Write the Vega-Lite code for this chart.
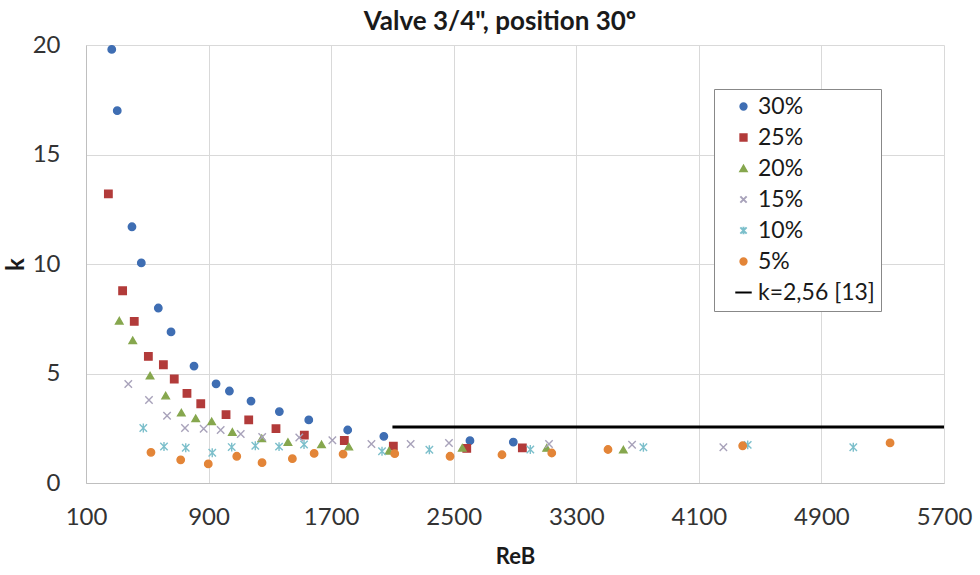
{
  "$schema": "https://vega.github.io/schema/vega-lite/v6.json",
  "width": 858,
  "height": 438,
  "autosize": {"type": "none"},
  "padding": {"left": 86, "top": 45, "right": 36, "bottom": 92},
  "background": "white",
  "title": {"text": "Valve 3/4\", position 30º", "font": "Lato", "fontSize": 26, "fontWeight": "bold", "color": "#1a1a1a", "offset": -2, "dx": -15},
  "config": {"view": {"stroke": null}, "font": "Lato"},
  "datasets": {
    "pts": [
      {"series": "30%", "re": 268, "k": 19.8},
      {"series": "30%", "re": 304, "k": 17.0},
      {"series": "30%", "re": 400, "k": 11.7},
      {"series": "30%", "re": 461, "k": 10.05},
      {"series": "30%", "re": 572, "k": 7.99},
      {"series": "30%", "re": 655, "k": 6.9},
      {"series": "30%", "re": 805, "k": 5.34},
      {"series": "30%", "re": 949, "k": 4.53},
      {"series": "30%", "re": 1036, "k": 4.2},
      {"series": "30%", "re": 1177, "k": 3.74},
      {"series": "30%", "re": 1362, "k": 3.26},
      {"series": "30%", "re": 1554, "k": 2.88},
      {"series": "30%", "re": 1808, "k": 2.42},
      {"series": "30%", "re": 2044, "k": 2.13},
      {"series": "30%", "re": 2606, "k": 1.93},
      {"series": "30%", "re": 2889, "k": 1.87},
      {"series": "25%", "re": 246, "k": 13.2},
      {"series": "25%", "re": 339, "k": 8.78},
      {"series": "25%", "re": 415, "k": 7.38},
      {"series": "25%", "re": 507, "k": 5.78},
      {"series": "25%", "re": 605, "k": 5.4},
      {"series": "25%", "re": 676, "k": 4.75},
      {"series": "25%", "re": 759, "k": 4.09},
      {"series": "25%", "re": 849, "k": 3.62},
      {"series": "25%", "re": 1014, "k": 3.12},
      {"series": "25%", "re": 1162, "k": 2.88},
      {"series": "25%", "re": 1340, "k": 2.48},
      {"series": "25%", "re": 1525, "k": 2.19},
      {"series": "25%", "re": 1786, "k": 1.94},
      {"series": "25%", "re": 2106, "k": 1.68},
      {"series": "25%", "re": 2585, "k": 1.58},
      {"series": "25%", "re": 2948, "k": 1.6},
      {"series": "20%", "re": 317, "k": 7.41},
      {"series": "20%", "re": 405, "k": 6.51},
      {"series": "20%", "re": 518, "k": 4.9},
      {"series": "20%", "re": 620, "k": 3.99},
      {"series": "20%", "re": 722, "k": 3.21},
      {"series": "20%", "re": 816, "k": 2.95},
      {"series": "20%", "re": 920, "k": 2.81},
      {"series": "20%", "re": 1055, "k": 2.33},
      {"series": "20%", "re": 1247, "k": 2.04},
      {"series": "20%", "re": 1418, "k": 1.87},
      {"series": "20%", "re": 1637, "k": 1.76},
      {"series": "20%", "re": 1815, "k": 1.66},
      {"series": "20%", "re": 2078, "k": 1.47},
      {"series": "20%", "re": 2556, "k": 1.61},
      {"series": "20%", "re": 3107, "k": 1.6},
      {"series": "20%", "re": 3607, "k": 1.52},
      {"series": "15%", "re": 376, "k": 4.52},
      {"series": "15%", "re": 511, "k": 3.79},
      {"series": "15%", "re": 629, "k": 3.07},
      {"series": "15%", "re": 746, "k": 2.51},
      {"series": "15%", "re": 868, "k": 2.48},
      {"series": "15%", "re": 979, "k": 2.42},
      {"series": "15%", "re": 1110, "k": 2.24},
      {"series": "15%", "re": 1250, "k": 2.1},
      {"series": "15%", "re": 1492, "k": 2.08},
      {"series": "15%", "re": 1708, "k": 1.95},
      {"series": "15%", "re": 1963, "k": 1.78},
      {"series": "15%", "re": 2219, "k": 1.78},
      {"series": "15%", "re": 2469, "k": 1.83},
      {"series": "15%", "re": 3122, "k": 1.78},
      {"series": "15%", "re": 3664, "k": 1.75},
      {"series": "15%", "re": 4260, "k": 1.63},
      {"series": "10%", "re": 474, "k": 2.51},
      {"series": "10%", "re": 609, "k": 1.67},
      {"series": "10%", "re": 751, "k": 1.61},
      {"series": "10%", "re": 924, "k": 1.38},
      {"series": "10%", "re": 1051, "k": 1.64},
      {"series": "10%", "re": 1205, "k": 1.7},
      {"series": "10%", "re": 1360, "k": 1.66},
      {"series": "10%", "re": 1523, "k": 1.76},
      {"series": "10%", "re": 2032, "k": 1.45},
      {"series": "10%", "re": 2341, "k": 1.52},
      {"series": "10%", "re": 3000, "k": 1.53},
      {"series": "10%", "re": 3738, "k": 1.63},
      {"series": "10%", "re": 4419, "k": 1.74},
      {"series": "10%", "re": 5108, "k": 1.63},
      {"series": "5%", "re": 524, "k": 1.4},
      {"series": "5%", "re": 718, "k": 1.06},
      {"series": "5%", "re": 898, "k": 0.87},
      {"series": "5%", "re": 1084, "k": 1.22},
      {"series": "5%", "re": 1249, "k": 0.93},
      {"series": "5%", "re": 1447, "k": 1.11},
      {"series": "5%", "re": 1589, "k": 1.35},
      {"series": "5%", "re": 1778, "k": 1.32},
      {"series": "5%", "re": 2115, "k": 1.34},
      {"series": "5%", "re": 2476, "k": 1.22},
      {"series": "5%", "re": 2815, "k": 1.29},
      {"series": "5%", "re": 3140, "k": 1.37},
      {"series": "5%", "re": 3507, "k": 1.53},
      {"series": "5%", "re": 4386, "k": 1.7},
      {"series": "5%", "re": 5348, "k": 1.83}
    ],
    "ref": [
      {"series": "k=2,56 [13]", "re": 2100, "k": 2.56},
      {"series": "k=2,56 [13]", "re": 5700, "k": 2.56}
    ]
  },
  "encoding": {
    "x": {"field": "re", "type": "quantitative",
      "scale": {"domain": [100, 5700], "nice": false, "zero": false},
      "axis": {"values": [100, 900, 1700, 2500, 3300, 4100, 4900, 5700], "format": "d", "grid": true, "gridColor": "#D9D9D9", "domainColor": "#BFBFBF", "ticks": false, "labelFontSize": 24, "labelColor": "#333333", "labelPadding": 22, "labelFlush": false, "title": "ReB", "titleFontSize": 22, "titleFontWeight": "bold", "titleColor": "#1a1a1a", "titlePadding": 17}},
    "y": {"field": "k", "type": "quantitative",
      "scale": {"domain": [0, 20], "nice": false},
      "axis": {"values": [0, 5, 10, 15, 20], "format": "d", "grid": true, "gridColor": "#D9D9D9", "domainColor": "#BFBFBF", "ticks": false, "labelFontSize": 24, "labelColor": "#333333", "labelPadding": 26, "title": "k", "titleFontSize": 24, "titleFontWeight": "bold", "titleColor": "#1a1a1a", "titlePadding": 4}}
  },
  "layer": [
    {
      "data": {"name": "ref"},
      "mark": {"type": "line", "strokeWidth": 3},
      "encoding": {
        "color": {"field": "series", "type": "nominal",
          "scale": {"domain": ["30%", "25%", "20%", "15%", "10%", "5%", "k=2,56 [13]"], "range": ["#3F6EB3", "#B23B3A", "#86A74E", "#A8A2BA", "#7CBFCB", "#E38538", "#000000"]},
          "legend": {"title": null, "orient": "none", "legendX": 628, "legendY": 44, "padding": 6, "strokeColor": "#888888", "fillColor": "white", "labelFontSize": 23, "labelColor": "#1a1a1a", "symbolSize": 40, "symbolStrokeWidth": 2, "rowPadding": 7, "labelOffset": 3, "symbolOffset": 12}}
      }
    },
    {
      "data": {"name": "pts"},
      "mark": {"type": "point", "filled": true, "size": 55, "strokeWidth": 1.4, "opacity": 1},
      "encoding": {
        "color": {"field": "series", "type": "nominal",
          "scale": {"domain": ["30%", "25%", "20%", "15%", "10%", "5%", "k=2,56 [13]"], "range": ["#3F6EB3", "#B23B3A", "#86A74E", "#A8A2BA", "#7CBFCB", "#E38538", "#000000"]},
          "legend": {"title": null, "orient": "none", "legendX": 628, "legendY": 44, "padding": 6, "strokeColor": "#888888", "fillColor": "white", "labelFontSize": 23, "labelColor": "#1a1a1a", "symbolSize": 40, "symbolStrokeWidth": 2, "rowPadding": 7, "labelOffset": 3, "symbolOffset": 12}},
        "stroke": {"field": "series", "type": "nominal",
          "scale": {"domain": ["30%", "25%", "20%", "15%", "10%", "5%", "k=2,56 [13]"], "range": ["#3F6EB3", "#B23B3A", "#86A74E", "#A8A2BA", "#7CBFCB", "#E38538", "#000000"]},
          "legend": {"title": null, "orient": "none", "legendX": 628, "legendY": 44, "padding": 6, "strokeColor": "#888888", "fillColor": "white", "labelFontSize": 23, "labelColor": "#1a1a1a", "symbolSize": 40, "symbolStrokeWidth": 2, "rowPadding": 7, "labelOffset": 3, "symbolOffset": 12}},
        "shape": {"field": "series", "type": "nominal",
          "scale": {"domain": ["30%", "25%", "20%", "15%", "10%", "5%", "k=2,56 [13]"], "range": ["circle", "square", "triangle-up", "M-1,-1L1,1M-1,1L1,-1", "M-1,-1L1,1M-1,1L1,-1M0,-1.2L0,1.2", "circle", "M-2.6,0L2.6,0"]},
          "legend": {"title": null, "orient": "none", "legendX": 628, "legendY": 44, "padding": 6, "strokeColor": "#888888", "fillColor": "white", "labelFontSize": 23, "labelColor": "#1a1a1a", "symbolSize": 40, "symbolStrokeWidth": 2, "rowPadding": 7, "labelOffset": 3, "symbolOffset": 12}}
      }
    }
  ]
}
